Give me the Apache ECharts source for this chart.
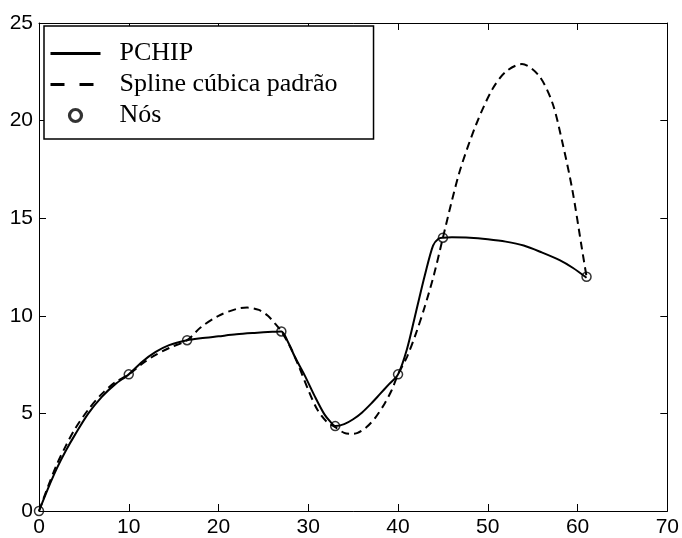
<!DOCTYPE html>
<html>
<head>
<meta charset="utf-8">
<script src="https://cdn.jsdelivr.net/npm/echarts@6/dist/echarts.min.js"></script>
<style>html,body{margin:0;padding:0;background:#fff}#c{width:682px;height:538px}</style>
</head>
<body>
<div id="c"></div>
<script>
const xTicks = [0, 10, 20, 30, 40, 50, 60, 70];
const yTicks = [0, 5, 10, 15, 20, 25];

const nodeX = [0, 10, 16.5, 27, 33, 40, 45, 61];
const nodeY = [0, 7, 8.75, 9.2, 4.35, 7, 14, 12];

const pchipX = [0, 1, 2, 3, 4, 5.5, 7, 8.5, 10, 11.5, 13, 14.5, 16.5, 18, 20, 22, 24, 26, 27, 27.7, 28.5, 29.6, 30.7, 31.8, 32.5, 33, 34, 35, 36, 37, 38, 39, 40, 41, 42, 43, 43.9, 44.5, 45, 46, 48, 50, 52, 54, 56, 58, 59.5, 61];
const pchipY = [0, 1.15, 2.2, 3.1, 3.9, 5, 5.85, 6.5, 7, 7.65, 8.15, 8.5, 8.75, 8.85, 8.95, 9.05, 9.12, 9.18, 9.2, 8.7, 7.9, 6.95, 5.9, 4.95, 4.55, 4.35, 4.45, 4.7, 5.05, 5.5, 6.0, 6.5, 7, 8.3, 10.2, 12.1, 13.6, 13.95, 14, 14.02, 14, 13.92, 13.8, 13.6, 13.25, 12.85, 12.45, 11.95];

const splineX = [0, 1, 2, 3, 4, 5.5, 7, 8.5, 10, 11.5, 13, 14.5, 16.5, 18, 20, 22, 23.2, 24.5, 25.5, 26.3, 27, 28, 29, 30, 31, 32, 33, 34, 34.7, 35.5, 36.5, 37.5, 38.5, 39.3, 40, 41, 42, 43, 44, 45, 46, 47, 48.7, 50.5, 52, 53.8, 55.7, 57.2, 58.3, 59.4, 60.5, 61];
const splineY = [0, 1.25, 2.4, 3.35, 4.2, 5.2, 6.0, 6.6, 7, 7.55, 8.0, 8.35, 8.75, 9.4, 10.0, 10.35, 10.42, 10.3, 10.0, 9.6, 9.2, 8.4, 7.35, 6.2, 5.2, 4.6, 4.3, 4.0, 3.95, 4.0, 4.3, 4.8, 5.5, 6.2, 7, 7.9, 9.1, 10.5, 12.1, 14, 15.9, 17.6, 19.8, 21.6, 22.5, 22.9, 22.3, 20.9, 18.9, 16.5, 13.4, 12];

const names = ['PCHIP', 'Spline cúbica padrão', 'Nós'];

function pairs(xs, ys) { return xs.map((x, i) => [x, ys[i]]); }

const chart = echarts.init(document.getElementById('c'), null, {renderer: 'canvas'});

const axisCommon = {
  type: 'value',
  axisLine: {show: true, onZero: false, lineStyle: {color: '#000', width: 1}},
  axisTick: {show: true, inside: true, length: 7, lineStyle: {color: '#000', width: 1}},
  splitLine: {show: false}
};
const labelStyle = {color: '#000', fontSize: 21, fontFamily: 'Liberation Sans'};
const hidden = {color: 'rgba(0,0,0,0)', borderWidth: 0, opacity: 0};

const option = {
  animation: false,
  backgroundColor: '#fff',
  grid: {left: 39, right: 9, top: 23, bottom: 25},
  xAxis: [
    Object.assign({}, axisCommon, {position: 'bottom', min: xTicks[0], max: xTicks[xTicks.length - 1], interval: xTicks[1] - xTicks[0],
      axisLabel: Object.assign({margin: 6}, labelStyle)}),
    Object.assign({}, axisCommon, {position: 'top', min: xTicks[0], max: xTicks[xTicks.length - 1], interval: xTicks[1] - xTicks[0],
      axisLabel: {show: false}})
  ],
  yAxis: [
    Object.assign({}, axisCommon, {position: 'left', min: yTicks[0], max: yTicks[yTicks.length - 1], interval: yTicks[1] - yTicks[0],
      axisLabel: Object.assign({margin: 6}, labelStyle)}),
    Object.assign({}, axisCommon, {position: 'right', min: yTicks[0], max: yTicks[yTicks.length - 1], interval: yTicks[1] - yTicks[0],
      axisLabel: {show: false}})
  ],
  legend: {
    orient: 'vertical',
    left: 44,
    top: 26,
    padding: [12, 36, 8, 5],
    itemGap: 0,
    itemWidth: 50,
    itemHeight: 12,
    selectedMode: false,
    borderColor: '#000',
    borderWidth: 1.5,
    backgroundColor: '#fff',
    textStyle: {fontFamily: 'Liberation Serif', fontSize: 26, color: '#000', lineHeight: 31, padding: [0, 0, 0, 14]},
    data: [
      {name: names[0], lineStyle: {width: 3, color: '#000', type: 'solid'}, itemStyle: hidden},
      {name: names[1], lineStyle: {width: 3, color: '#000', type: [14, 15]}, itemStyle: hidden},
      {name: names[2], icon: 'circle', itemStyle: {color: '#fff', borderColor: '#000', borderWidth: 3.2}}
    ]
  },
  series: [
    {name: names[0], type: 'line', data: pairs(pchipX, pchipY), symbol: 'none', smooth: 0.3,
     lineStyle: {color: '#000', width: 2}, itemStyle: {color: '#000'}},
    {name: names[1], type: 'line', data: pairs(splineX, splineY), symbol: 'none', smooth: 0.3,
     lineStyle: {color: '#000', width: 2, type: [8, 5]}, itemStyle: {color: '#000'}},
    {name: names[2], type: 'scatter', data: pairs(nodeX, nodeY), symbol: 'circle', symbolSize: 9, z: 5,
     itemStyle: {color: 'rgba(0,0,0,0)', borderColor: '#000', borderWidth: 1.5}}
  ]
};
chart.setOption(option);
</script>
</body>
</html>
